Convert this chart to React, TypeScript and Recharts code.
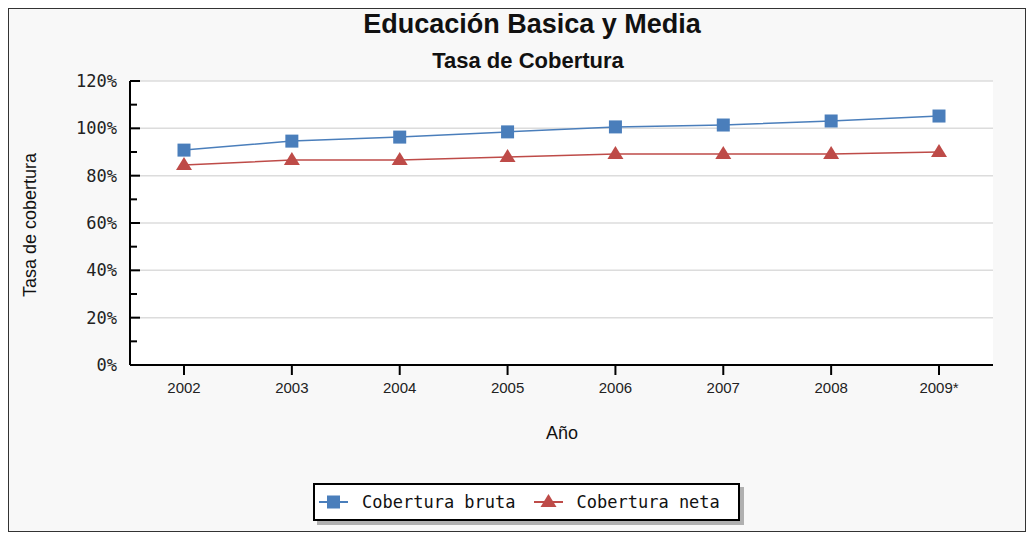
import React from "react";
import { LineChart, Line, XAxis, YAxis, CartesianGrid, ReferenceLine, Legend } from "recharts";

const years = ["2002", "2003", "2004", "2005", "2006", "2007", "2008", "2009*"];
const brutaValues = [90.8, 94.6, 96.3, 98.5, 100.6, 101.4, 103.1, 105.2];
const netaValues = [84.5, 86.6, 86.6, 87.9, 89.2, 89.2, 89.2, 90.0];
const yTicks = [0, 10, 20, 30, 40, 50, 60, 70, 80, 90, 100, 110, 120];
const gridValues = [20, 40, 60, 80, 100, 120];

const BLUE = "#4A7EBB";
const RED = "#BE4B48";

const data = years.map((y, i) => ({ year: y, bruta: brutaValues[i], neta: netaValues[i] }));

const YTick = (props: any) => {
  const { x, y, payload } = props;
  const v = payload.value as number;
  const major = v % 20 === 0;
  return (
    <g>
      <line x1={x} x2={x + (major ? 10 : 7)} y1={y} y2={y} stroke="#000" strokeWidth={2} />
      {major && (
        <text x={x - 13} y={y} textAnchor="end" dominantBaseline="central" fontFamily="'DejaVu Sans Mono', monospace" fontSize={17} fill="#222">
          {v + "%"}
        </text>
      )}
    </g>
  );
};

const XTick = (props: any) => {
  const { x, y, payload } = props;
  return (
    <g>
      <line x1={x} x2={x} y1={y} y2={y + 10} stroke="#000" strokeWidth={2} />
      <text x={x} y={y + 22} textAnchor="middle" dominantBaseline="central" fontFamily="'Liberation Sans', Arial, sans-serif" fontSize={15} fill="#222">
        {payload.value}
      </text>
    </g>
  );
};

const SquareDot = (props: any) => {
  const { cx, cy, index } = props;
  return <rect key={"s" + index} x={cx - 6.5} y={cy - 6.5} width={13} height={13} fill={BLUE} />;
};

const TriDot = (props: any) => {
  const { cx, cy, index } = props;
  return <polygon key={"t" + index} points={`${cx},${cy - 8} ${cx + 8},${cy + 5} ${cx - 8},${cy + 5}`} fill={RED} />;
};

const LegendContent = (props: any) => {
  const payload = props.payload || [];
  return (
    <div
      style={{
        width: 419,
        height: 34,
        border: "2px solid #000",
        background: "#fff",
        boxShadow: "4px 4px 0 #b0b0b0",
        display: "flex",
        alignItems: "center",
        paddingLeft: 4,
        boxSizing: "content-box",
        fontFamily: "'DejaVu Sans Mono', monospace",
        fontSize: 17,
        color: "#111",
        whiteSpace: "nowrap",
        overflow: "visible",
      }}
    >
      {payload.map((p: any, i: number) => (
        <div key={i} style={{ display: "flex", alignItems: "center", flexShrink: 0, marginRight: i < payload.length - 1 ? 18 : 0 }}>
          <svg width={29} height={20} style={{ marginRight: 14, flexShrink: 0 }}>
            <line x1={0} x2={29} y1={10} y2={10} stroke={p.color} strokeWidth={2} />
            {p.dataKey === "bruta" ? (
              <rect x={8} y={3.5} width={13} height={13} fill={p.color} />
            ) : (
              <polygon points="14.5,2 22.5,15 6.5,15" fill={p.color} />
            )}
          </svg>
          <span style={{ whiteSpace: "nowrap" }}>{p.value}</span>
        </div>
      ))}
    </div>
  );
};

export default function App() {
  return (
    <div
      style={{
        position: "relative",
        width: 1016,
        height: 522,
        border: "1px solid #333",
        background: "#f8f8f8",
        boxShadow: "4px 5px 0 #555",
      }}
    >
      <div style={{ position: "absolute", left: 523, top: 15, transform: "translate(-50%, -50%)", fontFamily: "'Liberation Sans', Arial, sans-serif", fontWeight: "bold", fontSize: 27, color: "#111", whiteSpace: "nowrap" }}>
        Educación Basica y Media
      </div>
      <div style={{ position: "absolute", left: 519, top: 52, transform: "translate(-50%, -50%)", fontFamily: "'Liberation Sans', Arial, sans-serif", fontWeight: "bold", fontSize: 22, color: "#111", whiteSpace: "nowrap" }}>
        Tasa de Cobertura
      </div>
      <div style={{ position: "absolute", left: 21, top: 216, transform: "translate(-50%, -50%) rotate(-90deg)", fontFamily: "'Liberation Sans', Arial, sans-serif", fontSize: 18, color: "#111", whiteSpace: "nowrap" }}>
        Tasa de cobertura
      </div>
      <div style={{ position: "absolute", left: 553, top: 424, transform: "translate(-50%, -50%)", fontFamily: "'Liberation Sans', Arial, sans-serif", fontSize: 18, color: "#111", whiteSpace: "nowrap" }}>
        Año
      </div>
      <LineChart width={1016} height={522} data={data} margin={{ top: 72, right: 32, bottom: 96, left: 61 }}>
        <CartesianGrid fill="#fff" horizontal={false} vertical={false} />
        {gridValues.map((g) => (
          <ReferenceLine key={g} y={g} stroke="#dcdcdc" strokeWidth={1.5} ifOverflow="extendDomain" />
        ))}
        <XAxis
          dataKey="year"
          scale="point"
          padding={{ left: 54, right: 54 }}
          axisLine={{ stroke: "#000", strokeWidth: 2 }}
          tickLine={false}
          tickSize={0}
          tickMargin={0}
          tick={<XTick />}
          height={30}
          interval={0}
        />
        <YAxis
          domain={[0, 120]}
          ticks={yTicks}
          width={60}
          axisLine={{ stroke: "#000", strokeWidth: 2 }}
          tickLine={false}
          tickSize={0}
          tickMargin={0}
          tick={<YTick />}
          interval={0}
        />
        <Legend
          content={<LegendContent />}
          wrapperStyle={{ position: "absolute", left: 304, top: 474, width: 430, height: 40, bottom: "auto" }}
        />
        <Line type="linear" dataKey="bruta" name="Cobertura bruta" stroke={BLUE} strokeWidth={1.5} dot={<SquareDot />} activeDot={false} isAnimationActive={false} legendType="square" />
        <Line type="linear" dataKey="neta" name="Cobertura neta" stroke={RED} strokeWidth={1.5} dot={<TriDot />} activeDot={false} isAnimationActive={false} legendType="triangle" />
      </LineChart>
    </div>
  );
}
